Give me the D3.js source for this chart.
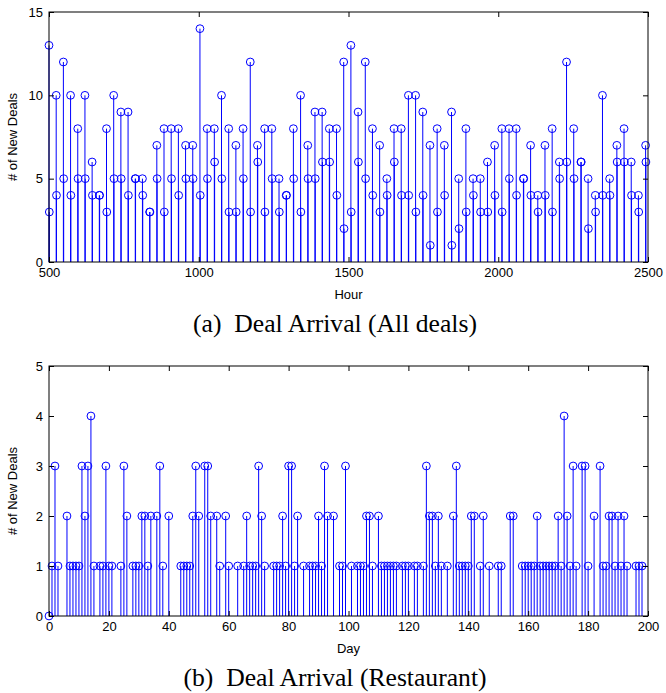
<!DOCTYPE html>
<html>
<head>
<meta charset="utf-8">
<script src="https://cdn.jsdelivr.net/npm/d3@7"></script>
<style>
  body { margin: 0; background: #fff; }
  svg { display: block; }
  .tick text { font-family: "Liberation Sans", Arial, sans-serif; font-size: 13px; fill: #000; }
  .tick line { stroke: #000; }
  .axis-label { font-family: "Liberation Sans", Arial, sans-serif; font-size: 13px; fill: #000; }
  .caption { font-family: "Liberation Serif", "DejaVu Serif", serif; fill: #000; }
</style>
</head>
<body>
<div id="chart"></div>
<script>
/**
 * DATA
 * */
// (a) all deals: one stem per day, two hourly readings per stem
const allHours = [
  500, 524, 548, 572, 596, 620, 644, 668, 692, 716,
  740, 764, 788, 812, 836, 860, 884, 908, 932, 956,
  980, 1004, 1028, 1052, 1076, 1100, 1124, 1148, 1172, 1196,
  1220, 1244, 1268, 1292, 1316, 1340, 1364, 1388, 1412, 1436,
  1460, 1484, 1508, 1532, 1556, 1580, 1604, 1628, 1652, 1676,
  1700, 1724, 1748, 1772, 1796, 1820, 1844, 1868, 1892, 1916,
  1940, 1964, 1988, 2012, 2036, 2060, 2084, 2108, 2132, 2156,
  2180, 2204, 2228, 2252, 2276, 2300, 2324, 2348, 2372, 2396,
  2420, 2444, 2468, 2492
];
const allDealsHigh = [
  13, 10, 12, 10, 8, 10, 6, 4, 8, 10,
  9, 9, 5, 5, 3, 7, 8, 8, 8, 7,
  7, 14, 8, 8, 10, 8, 7, 8, 12, 7,
  8, 8, 5, 4, 8, 10, 7, 9, 9, 8,
  8, 12, 13, 9, 12, 8, 7, 5, 8, 8,
  10, 10, 9, 7, 8, 7, 9, 5, 8, 5,
  5, 6, 7, 8, 8, 8, 5, 7, 4, 7,
  8, 6, 12, 8, 6, 5, 4, 10, 5, 7,
  8, 6, 4, 7
];
const allDealsLow = [
  3, 4, 5, 4, 5, 5, 4, 4, 3, 5,
  5, 4, 5, 4, 3, 5, 3, 5, 4, 5,
  5, 4, 5, 6, 5, 3, 3, 5, 3, 6,
  3, 5, 3, 4, 5, 3, 5, 5, 6, 6,
  4, 2, 3, 6, 5, 4, 3, 4, 6, 4,
  4, 3, 4, 1, 3, 4, 1, 2, 3, 4,
  3, 3, 4, 3, 5, 4, 5, 4, 3, 4,
  3, 5, 6, 5, 6, 2, 3, 4, 4, 6,
  6, 4, 3, 6
];
const allXTicks = [500, 1000, 1500, 2000, 2500];
const allYTicks = [0, 5, 10, 15];

// (b) restaurant deals per day
const restDays = [
  0, 1, 2, 3, 6, 7, 8, 9, 10, 11,
  12, 13, 14, 15, 17, 18, 19, 20, 21, 24,
  25, 26, 28, 29, 30, 31, 32, 33, 34, 36,
  37, 38, 40, 44, 45, 46, 47, 48, 49, 50,
  52, 53, 54, 56, 57, 59, 60, 63, 65, 66,
  67, 68, 69, 70, 71, 72, 75, 76, 77, 78,
  79, 80, 81, 82, 83, 85, 87, 88, 89, 90,
  91, 92, 93, 95, 97, 98, 99, 101, 103, 104,
  105, 106, 107, 108, 110, 111, 112, 113, 114, 115,
  116, 118, 119, 120, 122, 123, 125, 126, 127, 128,
  129, 130, 131, 133, 135, 136, 137, 138, 139, 140,
  141, 142, 144, 145, 147, 150, 151, 154, 155, 158,
  159, 160, 161, 162, 163, 164, 165, 166, 167, 168,
  169, 170, 171, 172, 173, 174, 175, 176, 178, 179,
  180, 182, 184, 185, 186, 187, 188, 189, 190, 191,
  192, 193, 196, 197, 198
];
const restDeals = [
  0, 1, 3, 1, 2, 1, 1, 1, 1, 3,
  2, 3, 4, 1, 1, 1, 3, 1, 1, 1,
  3, 2, 1, 1, 1, 2, 2, 1, 2, 2,
  3, 1, 2, 1, 1, 1, 1, 2, 3, 2,
  3, 3, 2, 2, 1, 2, 1, 1, 1, 2,
  1, 1, 1, 3, 2, 1, 1, 1, 1, 2,
  1, 3, 3, 1, 2, 1, 1, 1, 1, 2,
  1, 3, 2, 2, 1, 1, 3, 1, 1, 1,
  1, 2, 2, 1, 2, 1, 1, 1, 1, 1,
  1, 1, 1, 1, 1, 1, 1, 3, 2, 2,
  1, 2, 1, 1, 2, 3, 1, 1, 1, 1,
  2, 2, 1, 2, 1, 1, 1, 2, 2, 1,
  1, 1, 1, 1, 2, 1, 1, 1, 1, 1,
  1, 2, 1, 4, 2, 1, 3, 1, 3, 3,
  1, 2, 3, 1, 1, 2, 2, 1, 2, 1,
  2, 1, 1, 1, 1
];
const restXTicks = [0, 20, 40, 60, 80, 100, 120, 140, 160, 180, 200];
const restYTicks = [0, 1, 2, 3, 4, 5];

/**
 * CONSTANTS
 * */
const width = 666,
  height = 693,
  left = 49,
  right = 648,
  tickLen = 5,
  markerR = 3.9,
  blue = "#0000ff";

const svg = d3
  .select("#chart")
  .append("svg")
  .attr("width", width)
  .attr("height", height);

// caption font size fitted to the width of caption (a)
let captionSize = 20;
{
  const probe = svg
    .append("text")
    .attr("class", "caption")
    .style("font-size", "20px")
    .text("(a)\u2002Deal Arrival (All deals)");
  const w = probe.node().getComputedTextLength();
  captionSize = 20 * 284 / w;
  probe.remove();
}

function drawPanel(opt) {
  const x = d3.scaleLinear().domain(opt.xDomain).range([left, right]);
  const y = d3.scaleLinear().domain(opt.yDomain).range([opt.bottom, opt.top]);
  const g = svg.append("g");

  // stems
  g.selectAll("line.stem")
    .data(opt.points)
    .join("line")
    .attr("class", "stem")
    .attr("x1", d => x(d.x))
    .attr("x2", d => x(d.x))
    .attr("y1", y(0))
    .attr("y2", d => y(d.y))
    .attr("stroke", blue)
    .attr("stroke-width", 1);

  // markers
  g.selectAll("circle")
    .data(opt.points)
    .join("circle")
    .attr("cx", d => x(d.x))
    .attr("cy", d => y(d.y))
    .attr("r", markerR)
    .attr("fill", "none")
    .attr("stroke", blue)
    .attr("stroke-width", 1);

  // axes, ticks pointing inward on all four sides
  const ax = (axis, ticks) =>
    axis.tickValues(ticks).tickSizeInner(-tickLen).tickSizeOuter(0);

  g.append("g")
    .attr("transform", `translate(0,${opt.bottom})`)
    .call(ax(d3.axisBottom(x), opt.xTicks).tickPadding(6).tickFormat(d3.format("d")));
  g.append("g")
    .attr("transform", `translate(0,${opt.top})`)
    .call(ax(d3.axisTop(x), opt.xTicks).tickFormat(""));
  g.append("g")
    .attr("transform", `translate(${left},0)`)
    .call(ax(d3.axisLeft(y), opt.yTicks).tickPadding(6).tickFormat(d3.format("d")));
  g.append("g")
    .attr("transform", `translate(${right},0)`)
    .call(ax(d3.axisRight(y), opt.yTicks).tickFormat(""));
  g.selectAll(".domain").remove();

  // box
  g.append("rect")
    .attr("x", left)
    .attr("y", opt.top)
    .attr("width", right - left)
    .attr("height", opt.bottom - opt.top)
    .attr("fill", "none")
    .attr("stroke", "#000")
    .attr("stroke-width", 1);

  g.append("text")
    .attr("class", "axis-label")
    .attr("x", (left + right) / 2)
    .attr("y", opt.bottom + 37)
    .attr("text-anchor", "middle")
    .text(opt.xLabel);

  g.append("text")
    .attr("class", "axis-label")
    .attr("transform", `translate(17,${(opt.top + opt.bottom) / 2}) rotate(-90)`)
    .attr("text-anchor", "middle")
    .text("# of New Deals");

  g.append("text")
    .attr("class", "caption")
    .attr("x", 335)
    .attr("y", opt.captionY)
    .attr("text-anchor", "middle")
    .style("font-size", captionSize + "px")
    .text(opt.caption);
}

const allPoints = allHours.flatMap((h, i) => [
  { x: h, y: allDealsHigh[i] },
  { x: h + 1, y: allDealsLow[i] }
]);
const restPoints = restDays.map((d, i) => ({ x: d, y: restDeals[i] }));

drawPanel({
  top: 12,
  bottom: 262,
  xDomain: [500, 2500],
  yDomain: [0, 15],
  xTicks: allXTicks,
  yTicks: allYTicks,
  xLabel: "Hour",
  caption: "(a)\u2002Deal Arrival (All deals)",
  captionY: 332,
  points: allPoints
});

drawPanel({
  top: 366,
  bottom: 616,
  xDomain: [0, 200],
  yDomain: [0, 5],
  xTicks: restXTicks,
  yTicks: restYTicks,
  xLabel: "Day",
  caption: "(b)\u2002Deal Arrival (Restaurant)",
  captionY: 686,
  points: restPoints
});
</script>
</body>
</html>
